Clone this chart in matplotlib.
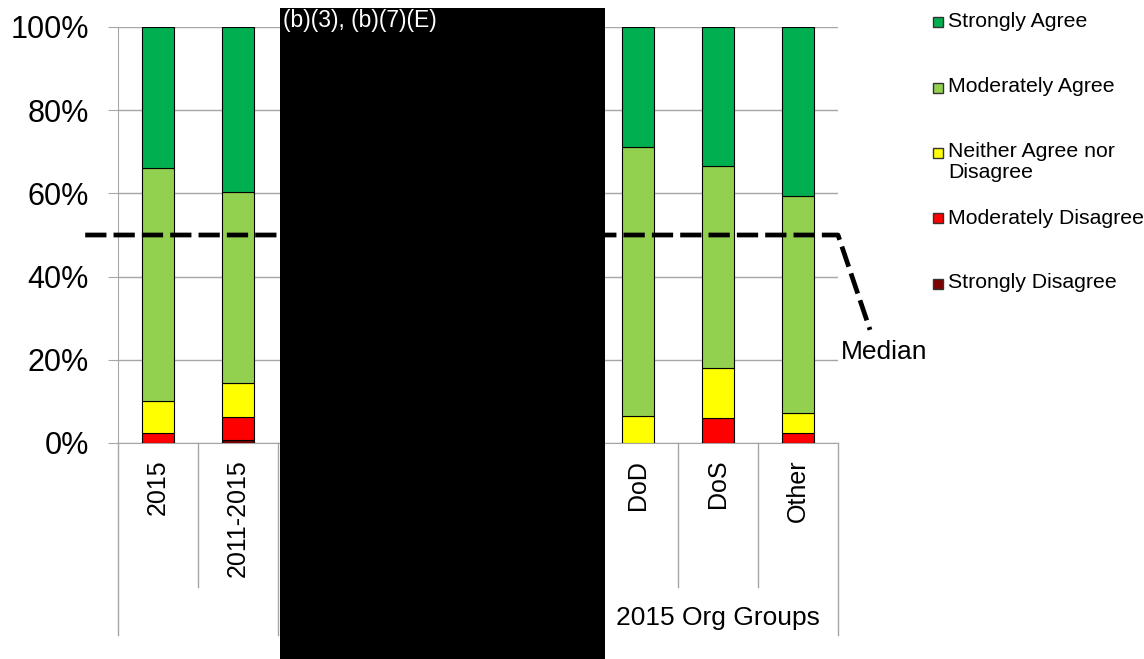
import matplotlib
matplotlib.use('Agg')  # Use a non-interactive backend

import matplotlib.pyplot as plt
import matplotlib.transforms as mtransforms
from matplotlib.patches import Rectangle
import numpy as np

plt.rcParams['font.family'] = ['Liberation Sans', 'DejaVu Sans']

# categories along x (four middle ones are redacted in the source)
categories = ['2015', '2011-2015', '', '', '', '', 'DoD', 'DoS', 'Other']
shown = ['2015', '2011-2015', 'DoD', 'DoS', 'Other']

# percent of responses, bottom to top of the stack
strongly_disagree = [0.0, 0.7, 0.0, 0.0, 0.0]
moderately_disagree = [2.4, 5.6, 0.0, 5.9, 2.5]
neither = [7.8, 8.1, 6.6, 12.2, 4.8]
moderately_agree = [55.8, 46.0, 64.5, 48.5, 52.1]
strongly_agree = [34.0, 39.6, 28.9, 33.4, 40.6]

series_names = ['Strongly Disagree', 'Moderately Disagree', 'Neither Agree nor\nDisagree',
                'Moderately Agree', 'Strongly Agree']
series_colors = ['#7f0000', '#ff0000', '#ffff00', '#92d050', '#00b050']
median = 50
group_label = '2015 Org Groups'
redaction_label = '(b)(3), (b)(7)(E)'

W, H = 1144, 659
fig = plt.figure(figsize=(W / 100, H / 100), dpi=100)


def fx(px):
    return px / W


def fy(py):
    return 1 - py / H


ax = fig.add_axes([fx(118), fy(443), fx(838) - fx(118), fy(27) - fy(443)])

xpos = np.array([categories.index(c) for c in shown])
stack = [strongly_disagree, moderately_disagree, neither, moderately_agree, strongly_agree]
bottom = np.zeros(len(shown))
for vals, col in zip(stack, series_colors):
    vals = np.array(vals)
    ax.bar(xpos, vals, width=0.39, bottom=bottom, color=col,
           edgecolor='black', linewidth=0.8, zorder=3)
    bottom += vals

ax.set_xlim(-0.5, len(categories) - 0.5)
ax.set_ylim(0, 100)
ax.set_yticks(np.arange(0, 101, 20))
ax.set_yticklabels([f'{v}%' for v in range(0, 101, 20)], fontsize=22)
ax.yaxis.grid(True, color='#a6a6a6', linewidth=1, zorder=0)
ax.tick_params(axis='y', length=7, color='#a6a6a6', pad=14)
ax.set_xticks(range(len(categories)))
ax.set_xticklabels(categories, rotation=90, fontsize=18, va='top')
ax.tick_params(axis='x', length=0, pad=12)
for s in ['top', 'right']:
    ax.spines[s].set_visible(False)
for s in ['left', 'bottom']:
    ax.spines[s].set_color('#a6a6a6')

# category separators under the axis
trans = mtransforms.blended_transform_factory(ax.transData, ax.transAxes)
outer = [-0.5, 1.5, 5.5, 8.5]
inner = [0.5, 6.5, 7.5]
for b in outer:
    ax.plot([b, b], [0, -0.4615], transform=trans, color='#a6a6a6', lw=1, clip_on=False)
for b in inner:
    ax.plot([b, b], [0, -0.346], transform=trans, color='#a6a6a6', lw=1, clip_on=False)
ax.text(7, -0.42, group_label, transform=trans, ha='center', va='center', fontsize=19)

# median line with leader
ax.plot([-0.91, 8.5, 8.9], [median, median, 27.2], color='black', lw=3.4,
        linestyle=(0, (4.5, 1.5)), clip_on=False, zorder=5)
ax.text(8.53, 21.9, 'Median', ha='left', va='center', fontsize=19)

# legend drawn by hand, top entry first
legend_y = [21.5, 87, 152, 218, 283]
for name, col, y in zip(series_names[::-1], series_colors[::-1], legend_y):
    fig.add_artist(Rectangle((fx(933), fy(y + 5.5)), fx(10), fy(0) - fy(10),
                             facecolor=col, edgecolor='#333333', lw=1,
                             transform=fig.transFigure))
    if '\n' in name:
        fig.text(fx(948), fy(y - 10), name, ha='left', va='top', fontsize=15.3, linespacing=1.15)
    else:
        fig.text(fx(948), fy(y), name, ha='left', va='center', fontsize=15.3)

# redaction box
fig.add_artist(Rectangle((fx(280), 0), fx(605) - fx(280), fy(8), facecolor='black',
                         edgecolor='none', transform=fig.transFigure, zorder=10))
fig.text(fx(283), fy(21), redaction_label, color='white', fontsize=16.5,
         ha='left', va='center', zorder=11)

fig.savefig('out.png', dpi=100)
